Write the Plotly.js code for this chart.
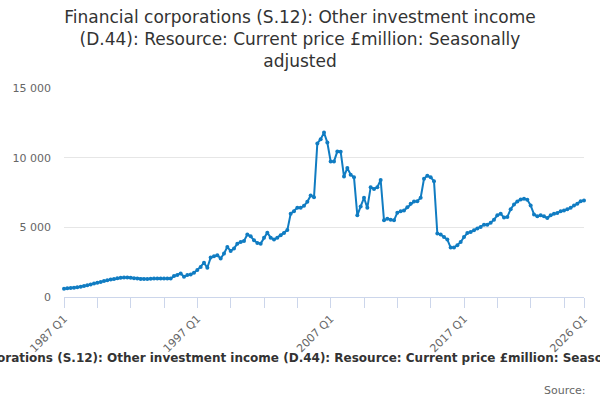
<!DOCTYPE html>
<html>
<head>
<meta charset="utf-8">
<script src="https://cdn.plot.ly/plotly-3.0.1.min.js"></script>
<style>
  html, body { margin: 0; padding: 0; background: #fff; }
  #chart { width: 600px; height: 400px; }
</style>
</head>
<body>
<div id="chart"></div>
<script>
/* Financial corporations (S.12): D.44 resource, quarterly, £million */
const TITLE = 'Financial corporations (S.12): Other investment income<br>(D.44): Resource: Current price £million: Seasonally<br>adjusted';
const AXIS_TITLE = 'Financial corporations (S.12): Other investment income (D.44): Resource: Current price £million: Seasonally adjusted';

const firstYear = 1987;
const lastYear = 2026;

// quarterly values, 1987 Q1 .. 2026 Q1
const values = [
    600, 620, 640, 670, 700, 740, 790, 840, 900, 960,
    1020, 1080, 1140, 1200, 1250, 1300, 1340, 1380, 1400, 1400,
    1380, 1350, 1320, 1300, 1290, 1300, 1310, 1320, 1320, 1330,
    1330, 1320, 1330, 1500, 1570, 1690, 1450, 1570, 1620, 1740,
    1930, 2160, 2450, 2100, 2830, 2930, 3000, 2760, 3120, 3590,
    3310, 3480, 3830, 3950, 4020, 4480, 4360, 4070, 3880, 3830,
    4260, 4620, 4260, 4120, 4260, 4430, 4600, 4800, 5980, 6160,
    6400, 6400, 6550, 6830, 7280, 7160, 11020, 11330, 11800, 11090,
    9730, 9730, 10450, 10430, 8640, 9260, 8780, 8590, 5860, 6500,
    7120, 6400, 7880, 7760, 7880, 8400, 5500, 5620, 5550, 5500,
    6050, 6160, 6210, 6450, 6690, 6860, 6880, 7120, 8480, 8710,
    8590, 8310, 4550, 4480, 4310, 4120, 3550, 3550, 3710, 3950,
    4300, 4590, 4660, 4790, 4910, 5020, 5190, 5190, 5330, 5550,
    5860, 5980, 5700, 5750, 6300, 6640, 6860, 7000, 7050, 6980,
    6570, 5930, 5790, 5860, 5790, 5670, 5860, 5980, 6020, 6160,
    6210, 6290, 6400, 6570, 6690, 6880, 6930
];

// category labels "1987 Q1" ...
const quarters = [];
for (let y = firstYear; y <= lastYear; y++) {
    for (let q = 1; q <= 4; q++) {
        if (y === lastYear && q > 1) break;
        quarters.push(y + ' Q' + q);
    }
}

// tick every 10 quarters, label every 40, plus the last one
const tickVals = [];
const tickText = [];
quarters.forEach((lab, i) => {
    if (i % 10 === 0 || i === quarters.length - 1) {
        tickVals.push(lab);
        tickText.push(i % 40 === 0 || i === quarters.length - 1 ? lab : '');
    }
});

const FONT = 'DejaVu Sans, Verdana, sans-serif';
const BLUE = '#107cc2';

const trace = {
    x: quarters, y: values,
    type: 'scatter', mode: 'lines+markers',
    line: { color: BLUE, width: 2 },
    marker: { color: BLUE, size: 4 },
    cliponaxis: false,
    hoverinfo: 'skip',
};

const layout = {
    width: 600, height: 400,
    margin: { l: 64, r: 16, t: 88, b: 103 },
    paper_bgcolor: '#fff', plot_bgcolor: '#fff',
    font: { family: FONT, color: '#666', size: 11 },
    separators: '. ',
    showlegend: false,
    title: {
        text: TITLE,
        font: { family: FONT, size: 17, color: '#333' },
        x: 0.5, xanchor: 'center', xref: 'container',
        y: 0.9425, yanchor: 'middle', yref: 'container',
    },
    xaxis: {
        type: 'category',
        range: [0, quarters.length - 1],
        tickmode: 'array', tickvals: tickVals, ticktext: tickText,
        tickangle: -45,
        ticks: 'outside', ticklen: 10, tickcolor: '#ccd6eb', tickwidth: 1,
        tickfont: { size: 11, color: '#666' },
        showgrid: false, zeroline: false,
        showline: true, linecolor: '#ccd6eb', linewidth: 1,
    },
    yaxis: {
        range: [0, 15000],
        tickvals: [0, 5000, 10000, 15000],
        tickformat: ',d',
        ticks: '', ticklabelstandoff: 12,
        tickfont: { size: 11, color: '#666' },
        showgrid: true, gridcolor: '#e6e6e6', gridwidth: 1,
        zeroline: false, showline: false,
    },
    annotations: [
        {
            // x-axis title, centred on the page and running past both edges
            text: '<b>' + AXIS_TITLE + '</b>',
            xref: 'paper', yref: 'paper',
            x: (300 - 64) / 520, y: -0.292, xanchor: 'center', yanchor: 'middle',
            showarrow: false,
            font: { family: FONT, size: 12, color: '#333' },
        },
        {
            text: 'Source:',
            xref: 'paper', yref: 'paper',
            x: 1.008, y: -0.445, xanchor: 'right', yanchor: 'middle',
            showarrow: false,
            font: { family: FONT, size: 11, color: '#666' },
        },
    ],
};

Plotly.newPlot('chart', [trace], layout, { displayModeBar: false, staticPlot: true });
</script>
</body>
</html>
